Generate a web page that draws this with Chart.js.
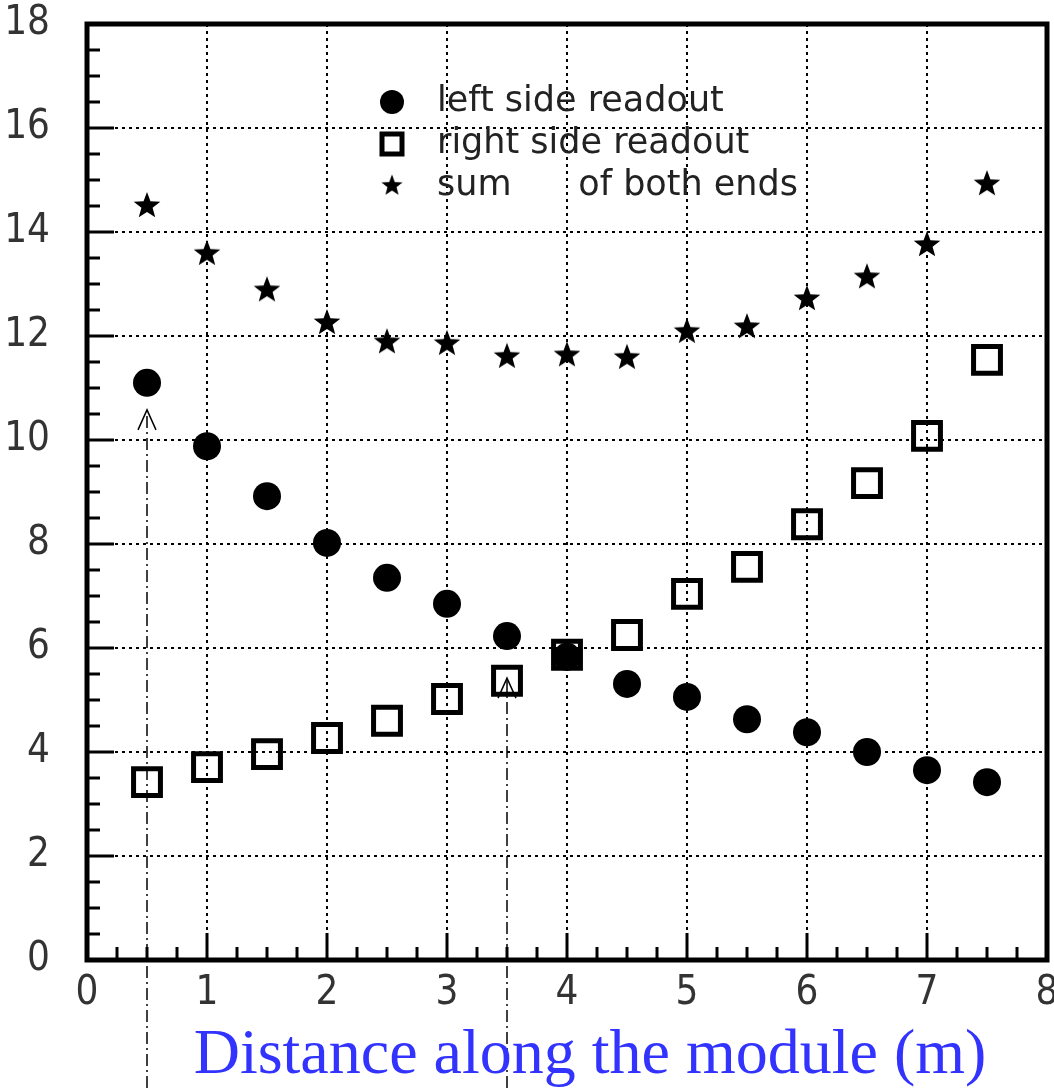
<!DOCTYPE html>
<html>
<head>
<meta charset="utf-8">
<title>Readout vs distance</title>
<script src="https://cdn.jsdelivr.net/npm/chart.js@4.4.0/dist/chart.umd.min.js"></script>
<style>
  html, body { margin: 0; padding: 0; background: #fff; }
  #chart { display: block; }
</style>
</head>
<body>
<canvas id="chart" width="1054" height="1088"></canvas>
<script>
// values
const distances = [0.5, 1, 1.5, 2, 2.5, 3, 3.5, 4, 4.5, 5, 5.5, 6, 6.5, 7, 7.5];
const leftSide  = [11.1, 9.88, 8.92, 8.02, 7.35, 6.85, 6.23, 5.83, 5.31, 5.06, 4.63, 4.38, 4.0, 3.65, 3.42];
const rightSide = [3.42, 3.71, 3.96, 4.27, 4.6, 5.02, 5.37, 5.87, 6.25, 7.04, 7.56, 8.38, 9.17, 10.08, 11.54];
const sumBoth   = [14.52, 13.6, 12.9, 12.27, 11.9, 11.87, 11.62, 11.65, 11.6, 12.1, 12.19, 12.73, 13.15, 13.77, 14.94];
const legendLabels = ['left side readout', 'right side readout', 'sum      of both ends'];
const xTitle = 'Distance along the module (m)';
// dash-dot pointers (x position, y of arrow tip)
const pointerX = [0.5, 3.5];
const pointerTip = [10.58, 5.42];

const toPoints = (ys) => distances.map((x, i) => ({ x: x, y: ys[i] }));

// filled five-point star used as point style
function makeStar(size) {
    const c = document.createElement('canvas');
    c.width = size; c.height = size;
    const g = c.getContext('2d');
    const cx = size / 2, cy = size / 2 + 1, ro = size / 2 - 1, ri = ro * 0.42;
    g.beginPath();
    for (let i = 0; i < 10; i++) {
        const r = i % 2 === 0 ? ro : ri;
        const a = -Math.PI / 2 + i * Math.PI / 5;
        g.lineTo(cx + r * Math.cos(a), cy + r * Math.sin(a));
    }
    g.closePath();
    g.fillStyle = '#000';
    g.fill();
    return c;
}
const star = makeStar(30);

const framePlugin = {
    id: 'frame',
    beforeDatasetsDraw(chart) {
        const ctx = chart.ctx, xs = chart.scales.x, ys = chart.scales.y;
        ctx.save();
        ctx.strokeStyle = '#000';
        ctx.lineWidth = 1.5;
        ctx.setLineDash([12, 4, 2, 4]);
        pointerX.forEach((px, i) => {
            const x = xs.getPixelForValue(px);
            const tip = ys.getPixelForValue(pointerTip[i]);
            ctx.beginPath();
            ctx.moveTo(x, chart.height);
            ctx.lineTo(x, tip + 2);
            ctx.stroke();
        });
        ctx.setLineDash([]);
        pointerX.forEach((px, i) => {
            const x = xs.getPixelForValue(px);
            const tip = ys.getPixelForValue(pointerTip[i]);
            ctx.beginPath();
            ctx.moveTo(x - 9, tip + 20);
            ctx.lineTo(x, tip);
            ctx.lineTo(x + 9, tip + 20);
            ctx.stroke();
        });
        ctx.restore();
    },
    afterDraw(chart) {
        const ctx = chart.ctx, a = chart.chartArea;
        const xs = chart.scales.x, ys = chart.scales.y;
        ctx.save();
        ctx.strokeStyle = '#000';
        // inward ticks
        ctx.lineWidth = 3;
        for (let v = 0.25; v < 8; v += 0.25) {
            const x = xs.getPixelForValue(v);
            const len = Math.abs(v - Math.round(v)) < 1e-6 ? 27 : 13;
            ctx.beginPath();
            ctx.moveTo(x, a.bottom);
            ctx.lineTo(x, a.bottom - len);
            ctx.stroke();
        }
        for (let v = 0.5; v < 18; v += 0.5) {
            const y = ys.getPixelForValue(v);
            const len = v % 2 === 0 ? 27 : 13;
            ctx.beginPath();
            ctx.moveTo(a.left, y);
            ctx.lineTo(a.left + len, y);
            ctx.stroke();
        }
        // frame
        ctx.lineWidth = 5;
        ctx.strokeRect(a.left, a.top, a.right - a.left, a.bottom - a.top);

        // legend
        const lx = a.left + 305, tx = a.left + 350;
        const rows = [a.top + 78, a.top + 120, a.top + 162];
        ctx.fillStyle = '#000';
        ctx.beginPath();
        ctx.arc(lx, rows[0], 12, 0, Math.PI * 2);
        ctx.fill();
        ctx.lineWidth = 5;
        ctx.strokeRect(lx - 10, rows[1] - 10, 20, 20);
        ctx.drawImage(star, lx - 12, rows[2] - 13, 24, 24);
        ctx.font = '35px "DejaVu Sans", sans-serif';
        ctx.fillStyle = '#222';
        ctx.textBaseline = 'middle';
        legendLabels.forEach((t, i) => ctx.fillText(t, tx, rows[i]));

        // axis title
        ctx.font = '64px "Liberation Serif", "Times New Roman", serif';
        ctx.fillStyle = '#3333ff';
        ctx.textAlign = 'center';
        ctx.textBaseline = 'alphabetic';
        ctx.fillText(xTitle, 590, 1073);
        ctx.restore();
    }
};

const tickFont = { family: '"DejaVu Sans Condensed", "Liberation Sans Narrow", "Liberation Sans", sans-serif', size: 40 };

new Chart(document.getElementById('chart'), {
    type: 'scatter',
    data: {
        datasets: [
            {
                label: legendLabels[0],
                data: toPoints(leftSide),
                pointStyle: 'circle',
                pointRadius: 14,
                pointBorderWidth: 0,
                backgroundColor: '#000',
                borderColor: '#000'
            },
            {
                label: legendLabels[1],
                data: toPoints(rightSide),
                pointStyle: 'rect',
                pointRadius: 19,
                pointBorderWidth: 5,
                backgroundColor: 'rgba(0,0,0,0)',
                borderColor: '#000'
            },
            {
                label: legendLabels[2],
                data: toPoints(sumBoth),
                pointStyle: star,
                pointRadius: 14,
                backgroundColor: '#000',
                borderColor: '#000'
            }
        ]
    },
    options: {
        responsive: false,
        animation: false,
        layout: { autoPadding: false, padding: { top: 24, right: 7, left: 0, bottom: 0 } },
        plugins: {
            legend: { display: false },
            tooltip: { enabled: false }
        },
        scales: {
            x: {
                type: 'linear',
                min: 0,
                max: 8,
                ticks: { stepSize: 1, padding: 10, color: '#333', font: tickFont, maxRotation: 0 },
                grid: { color: '#000', lineWidth: 2, drawTicks: false },
                border: { display: false, dash: [3, 4] },
                afterFit: (s) => { s.height = 128; s.paddingLeft = 0; s.paddingRight = 0; }
            },
            y: {
                min: 0,
                max: 18,
                ticks: { stepSize: 2, padding: 37, color: '#333', font: tickFont },
                grid: { color: '#000', lineWidth: 2, drawTicks: false },
                border: { display: false, dash: [3, 4] },
                afterFit: (s) => { s.width = 87; s.paddingTop = 0; s.paddingBottom = 0; }
            }
        }
    },
    plugins: [framePlugin]
});
</script>
</body>
</html>
